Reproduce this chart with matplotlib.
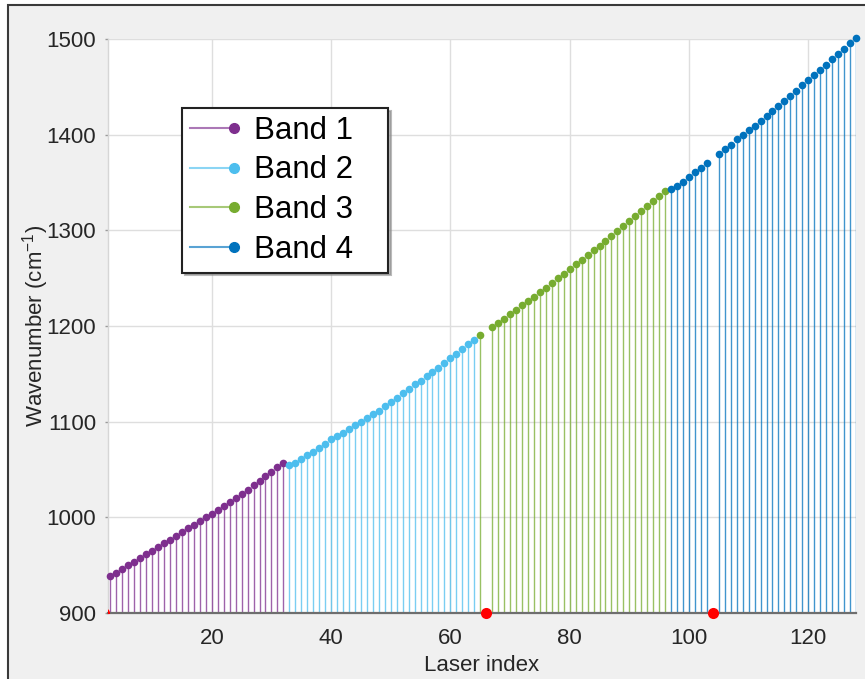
import numpy as np
import matplotlib.pyplot as plt
from matplotlib.lines import Line2D
from matplotlib.patches import Rectangle
from matplotlib.legend_handler import HandlerLine2D

plt.rcParams['font.family'] = ['Liberation Sans', 'DejaVu Sans']
plt.rcParams['mathtext.fontset'] = 'custom'
plt.rcParams['mathtext.rm'] = 'Liberation Sans'
plt.rcParams['mathtext.it'] = 'Liberation Sans:italic'

# laser index -> wavenumber (cm^-1)
band1_idx = list(range(3, 33))
band1_val = [938.8, 941.6, 945.8, 950.0, 953.2, 957.0, 961.2, 965.1, 968.9, 973.1,
             976.6, 980.5, 984.7, 988.5, 992.3, 996.2, 1000.0, 1003.9, 1008.1, 1012.3,
             1016.2, 1020.4, 1024.6, 1028.4, 1033.3, 1037.5, 1042.7, 1047.7, 1052.2, 1056.3]

band2_idx = list(range(33, 65))
band2_val = [1054.2, 1057.1, 1061.3, 1064.7, 1068.2, 1072.8, 1077.0, 1081.5, 1085.0, 1088.6,
             1092.3, 1096.2, 1100.1, 1104.3, 1108.1, 1111.6, 1116.5, 1120.7, 1124.9, 1129.8,
             1134.0, 1139.0, 1142.7, 1147.3, 1151.5, 1156.1, 1161.3, 1166.2, 1171.0, 1176.0,
             1181.2, 1185.7]

band3_idx = [65] + list(range(67, 97))
band3_val = [1190.7, 1198.7, 1203.2, 1207.7, 1212.3, 1216.9, 1221.5, 1226.1, 1230.8, 1235.5,
             1240.2, 1245.0, 1249.8, 1254.6, 1259.4, 1264.3, 1269.2, 1274.1, 1279.1, 1284.1,
             1289.1, 1294.1, 1299.2, 1304.3, 1309.4, 1314.6, 1319.8, 1325.0, 1330.2, 1335.5,
             1340.8]

band4_idx = list(range(97, 104)) + list(range(105, 129))
band4_val = [1343.1, 1346.7, 1350.9, 1355.7, 1361.0, 1365.6, 1370.4,
             1379.5, 1384.5, 1389.7, 1395.0, 1399.5, 1404.4, 1409.5, 1414.6, 1419.8, 1425.0,
             1430.2, 1435.5, 1440.8, 1446.1, 1451.4, 1456.8, 1462.2, 1467.6, 1473.1, 1478.6,
             1484.1, 1489.7, 1495.3, 1500.9]

missing_idx = [2, 66, 104]

labels = ['Band 1', 'Band 2', 'Band 3', 'Band 4']
colors = ['#7E2F8E', '#4DBEEE', '#77AC30', '#0072BD']

W, H = 865, 679
fig = plt.figure(figsize=(W / 100, H / 100), dpi=100)
fig.patch.set_facecolor('white')
fig.add_artist(Rectangle((8 / W, -0.05), 1.0, 1 - 5 / H + 0.05, transform=fig.transFigure,
                         facecolor='#F0F0F0', edgecolor='#3a3a3a', lw=1.5, zorder=-5))

ax = fig.add_axes([108 / W, 1 - 613 / H, (856 - 108) / W, (613 - 39) / H])
ax.set_facecolor('white')

base = 900
bands = [(band1_idx, band1_val), (band2_idx, band2_val), (band3_idx, band3_val), (band4_idx, band4_val)]
for (idx, val), col in zip(bands, colors):
    ax.vlines(idx, base, val, colors=col, lw=1.0, alpha=0.75)
    ax.plot(idx, val, 'o', color=col, ms=5.5, mec='none', clip_on=False, zorder=3)

# missing lasers on the baseline
ax.plot(missing_idx[1:], [base] * len(missing_idx[1:]), 'o', color='#FF0000', ms=8,
        mec='none', clip_on=False, zorder=5)
ax.plot(missing_idx[:1], [base], 'o', color='#FF0000', ms=8, mec='none', zorder=5)

ax.set_xlim(2.6, 128)
ax.set_ylim(900, 1500)
ax.set_xticks([20, 40, 60, 80, 100, 120])
ax.set_yticks(np.arange(900, 1501, 100))
ax.grid(True, color='#dedede', lw=1.0)
ax.set_axisbelow(True)

for s in ['top', 'right']:
    ax.spines[s].set_visible(False)
ax.spines['bottom'].set_color('#6e6e6e')
ax.spines['bottom'].set_linewidth(1.6)
ax.spines['left'].set_color('#d6d6d6')
ax.spines['left'].set_linewidth(1.0)
ax.tick_params(axis='x', length=0, pad=11, labelsize=16, labelcolor='#262626')
ax.tick_params(axis='y', length=2.5, width=1, color='#9a9a9a', pad=6, labelsize=16,
               labelcolor='#262626')

ax.set_xlabel('Laser index', fontsize=16, color='#262626', labelpad=4)
ax.set_ylabel('Wavenumber (cm$^{-1}$)', fontsize=16, color='#262626')
ax.yaxis.set_label_coords((51 - 108) / 748, 0.5)


class EndDotHandler(HandlerLine2D):
    def create_artists(self, *args, **kwargs):
        arts = super().create_artists(*args, **kwargs)
        for a in arts:
            if len(a.get_xdata()) == 3:
                a.set_markevery([2])
        return arts


def lighten(c, f=0.35):
    r, g, b = [int(c[i:i + 2], 16) / 255 for i in (1, 3, 5)]
    return (r + (1 - r) * f, g + (1 - g) * f, b + (1 - b) * f)


handles = [Line2D([], [], color=lighten(c), lw=1.5, marker='o', ms=7, mfc=c, mec=c) for c in colors]
leg = ax.legend(handles, labels, handler_map={Line2D: EndDotHandler()},
                loc='upper left', bbox_to_anchor=((182 - 108) / 748, (613 - 272) / 574,
                                                  (388 - 182) / 748, (272 - 108) / 574),
                mode='expand', borderaxespad=0, fontsize=22.5, frameon=True, fancybox=False,
                shadow={'color': '0.55', 'alpha': 0.6}, handlelength=1.4, handletextpad=0.64,
                labelspacing=0.31, borderpad=0.25)
leg.get_frame().set_edgecolor('#222222')
leg.get_frame().set_linewidth(1.5)
leg.get_frame().set_alpha(1)

fig.savefig('out.png', dpi=100, facecolor=fig.get_facecolor())
